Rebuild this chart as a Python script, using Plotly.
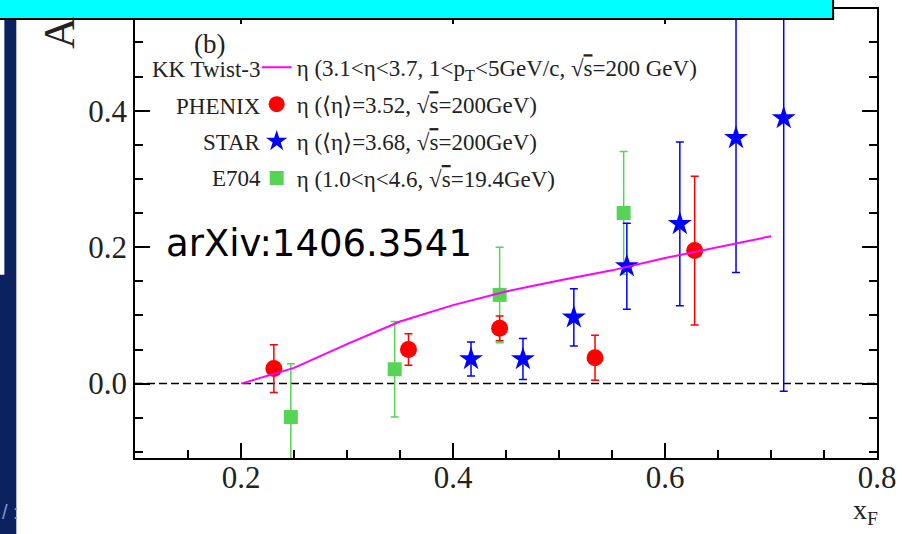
import plotly.graph_objects as go

# ---------------- data ----------------
phenix_x = [0.231, 0.358, 0.444, 0.534, 0.628]
phenix_y = [0.022, 0.050, 0.081, 0.038, 0.195]
phenix_err = [0.035, 0.023, 0.018, 0.033, 0.109]

star_x = [0.417, 0.466, 0.514, 0.564, 0.614, 0.667, 0.712]
star_y = [0.036, 0.036, 0.097, 0.172, 0.234, 0.360, 0.389]
star_err = [0.025, 0.030, 0.042, 0.063, 0.120, 0.197, 0.400]

e704_x = [0.247, 0.345, 0.444, 0.561]
e704_y = [-0.049, 0.021, 0.130, 0.250]
e704_err = [0.078, 0.070, 0.070, 0.090]

kk_x = [0.20, 0.25, 0.30, 0.35, 0.40, 0.45, 0.50, 0.55, 0.60, 0.65, 0.70]
kk_y = [0.000, 0.023, 0.058, 0.091, 0.115, 0.135, 0.151, 0.166, 0.184, 0.200, 0.216]

x_range = [0.1, 0.8]
y_range = [-0.109, 0.549]

series_names = ["KK Twist-3", "PHENIX", "STAR", "E704"]
OV = "<span style='text-decoration:overline'>s</span>"
series_desc = [
    "η (3.1&lt;η&lt;3.7, 1&lt;p<sub>T</sub>&lt;5GeV/c, √" + OV + "=200 GeV)",
    "η (⟨η⟩=3.52, √" + OV + "=200GeV)",
    "η (⟨η⟩=3.68, √" + OV + "=200GeV)",
    "η (1.0&lt;η&lt;4.6, √" + OV + "=19.4GeV)",
]

# ---------------- layout geometry ----------------
W, H = 903, 534
ML, MR, MT, MB = 135, 24, 7, 76
PW, PH = W - ML - MR, H - MT - MB


def px(x):
    return (x - ML) / PW


def py(y):
    return (MT + PH - y) / PH


SERIF = "Liberation Serif"
TXT = "#222"
RED, BLUE, GREEN, MAG = "#ff0000", "#0000ff", "#55d455", "#ff00ff"

fig = go.Figure()

fig.add_trace(go.Scatter(
    x=e704_x, y=e704_y, mode="markers", name=series_desc[3], legendgroup="d", legendrank=4,
    marker=dict(symbol="square", size=14, color=GREEN),
    error_y=dict(type="data", array=e704_err, color=GREEN, thickness=1.5, width=4),
))
fig.add_trace(go.Scatter(
    x=star_x, y=star_y, mode="markers", name=series_desc[2], legendgroup="c", legendrank=3,
    marker=dict(symbol="star", size=18, color=BLUE),
    error_y=dict(type="data", array=star_err, color=BLUE, thickness=1.5, width=4),
))
fig.add_trace(go.Scatter(
    x=phenix_x, y=phenix_y, mode="markers", name=series_desc[1], legendgroup="b", legendrank=2,
    marker=dict(symbol="circle", size=17, color=RED),
    error_y=dict(type="data", array=phenix_err, color=RED, thickness=1.5, width=4),
))
fig.add_trace(go.Scatter(
    x=kk_x, y=kk_y, mode="lines", name=series_desc[0], legendgroup="a", legendrank=1,
    line=dict(color=MAG, width=2),
))

shapes = [
    # zero line
    dict(type="line", xref="x", yref="y", x0=x_range[0], x1=x_range[1], y0=0, y1=0,
         line=dict(color="black", width=1.5, dash="8px,4px"), layer="below"),
    # slide decorations
    dict(type="rect", xref="paper", yref="paper", x0=px(-5), x1=px(16), y0=py(540), y1=py(-5),
         fillcolor="#0b2160", line=dict(width=0), layer="above"),
    dict(type="rect", xref="paper", yref="paper", x0=px(-5), x1=px(4), y0=py(274), y1=py(17),
         fillcolor="white", line=dict(width=0), layer="above"),
    dict(type="rect", xref="paper", yref="paper", x0=px(-20), x1=px(835), y0=py(17), y1=py(-20),
         fillcolor="#00ffff", line=dict(color="black", width=2), layer="above"),
]


def ann(text, x, y, xa="center", ya="middle", **kw):
    d = dict(text=text, x=px(x), y=py(y), xref="paper", yref="paper",
             xanchor=xa, yanchor=ya, showarrow=False)
    d.update(kw)
    return d


annotations = [
    ann("(b)", 210, 42, font=dict(family=SERIF, size=27, color=TXT)),
    ann("arXiv:1406.3541", 164, 243, xa="left",
        font=dict(family="DejaVu Sans", size=37, color="black")),
    ann("x<sub>F</sub>", 882, 512, xa="right", font=dict(family=SERIF, size=28, color=TXT)),
    ann("A", 60, 49, ya="bottom", textangle=-90, font=dict(family=SERIF, size=44, color=TXT)),
    ann("/ :", 0, 512, xa="left", font=dict(family="Liberation Sans", size=20, color="#8a97b8")),
]
name_y = [68, 105, 141, 177]
for nm, yy in zip(series_names, name_y):
    annotations.append(ann(nm, 263, yy, xa="right", font=dict(family=SERIF, size=23, color=TXT)))

axis_common = dict(
    showline=True, linecolor="black", linewidth=1.5, mirror="ticks",
    ticks="inside", ticklen=15, tickwidth=1.5, tickcolor="black",
    showgrid=False, zeroline=False,
    tickfont=dict(family=SERIF, size=31, color=TXT),
    minor=dict(ticks="inside", ticklen=8, tickwidth=1.5, tickcolor="black", dtick=0.05, showgrid=False),
)

fig.update_layout(
    width=W, height=H,
    margin=dict(l=ML, r=MR, t=MT, b=MB),
    paper_bgcolor="white", plot_bgcolor="white",
    xaxis=dict(range=x_range, tick0=0, dtick=0.2, tickformat=".1f", ticklabelstandoff=-9,
               **axis_common),
    yaxis=dict(range=y_range, tick0=0, dtick=0.2, tickformat=".1f", **axis_common),
    showlegend=True,
    legend=dict(x=px(257), y=py(44), xanchor="left", yanchor="top",
                bgcolor="rgba(0,0,0,0)", tracegroupgap=4, traceorder="grouped",
                font=dict(family=SERIF, size=23, color=TXT)),
    shapes=shapes,
    annotations=annotations,
)

fig.write_html("out.html", config={"displayModeBar": False},
               post_script="document.body.style.margin='0';document.body.style.overflow='hidden';")
